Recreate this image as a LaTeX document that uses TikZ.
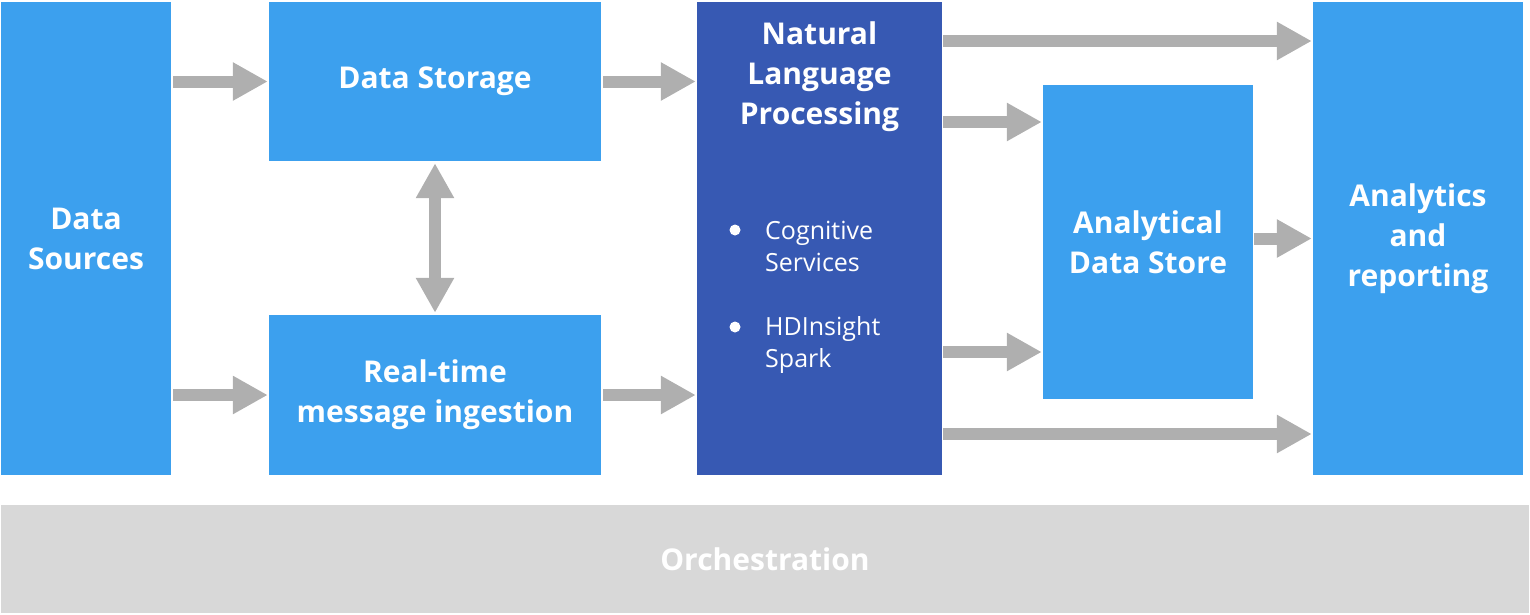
\documentclass[tikz,border=0pt]{standalone}
\usepackage{fontspec}
\setmainfont{Open Sans}
\usepackage{tikz}
\usetikzlibrary{arrows.meta}
\usetikzlibrary{calc}
\definecolor{lightblue}{HTML}{3CA0EE}
\definecolor{darkblue}{HTML}{3759B3}
\definecolor{arrowgray}{HTML}{AFAFAF}
\definecolor{orchgray}{HTML}{D8D8D8}
\newcommand{\headfont}{\fontsize{30}{40}\selectfont\bfseries}
\newcommand{\bulletfont}{\fontsize{25}{32}\selectfont}

\begin{document}
\begin{tikzpicture}[x=1pt,y=-1pt,
	box/.style={shape=rectangle,fill=lightblue,inner sep=0pt,text=white,align=center,font=\headfont},
	flow/.style={draw=arrowgray,line width=12pt,-{Triangle[length=35pt,width=36pt]}},
	dflow/.style={draw=arrowgray,line width=12pt,{Triangle[length=35pt,width=36pt]}-{Triangle[length=35pt,width=36pt]}}]
	\useasboundingbox (0,0) rectangle (1530,614);
	\draw (86,238.5) node (src) [box,minimum width=170pt,minimum height=473pt] {Data\\Sources};
	\draw (435,81.5) node (store) [box,minimum width=332pt,minimum height=159pt] {Data Storage};
	\draw (435,395) node (rt) [box,minimum width=332pt,minimum height=160pt] {Real-time\\message ingestion};
	\draw (819.5,238.5) node (nlp) [box,fill=darkblue,minimum width=245pt,minimum height=473pt] {};
	\draw (819.5,77) node (nlptitle) [text=white,align=center,font=\headfont] {Natural\\Language\\Processing};
	\draw (1148,242) node (ads) [box,minimum width=210pt,minimum height=314pt] {Analytical\\Data Store};
	\draw (1418,238.5) node (ana) [box,minimum width=210pt,minimum height=473pt] {Analytics\\and\\reporting};
	\draw (765,559) node (orch) [box,fill=orchgray,text=white,minimum width=1528pt,minimum height=108pt] {Orchestration};
	% bullets inside the NLP box
	\fill[white] (735,230) circle[radius=5.5pt] (735,327) circle[radius=5.5pt];
	\draw (765,246) node (cog) [anchor=west,inner sep=0pt,text=white,align=left,font=\bulletfont] {Cognitive\\Services};
	\draw (765,345) node (hdi) [anchor=west,inner sep=0pt,text=white,align=left,font=\bulletfont] {HDInsight\\Spark};
	% connectors
	\draw[flow,shorten <=2pt,shorten >=1pt] (src.east |- store) -- (store.west);
	\draw[flow,shorten <=2pt,shorten >=1pt] (src.east |- rt) -- (rt.west);
	\draw[flow,shorten <=2pt,shorten >=1pt] (store.east) -- (nlp.west |- store);
	\draw[flow,shorten <=2pt,shorten >=1pt] (rt.east) -- (nlp.west |- rt);
	\draw[dflow,shorten <=2pt,shorten >=2pt] (store.south) -- (rt.north);
	\draw[flow,shorten <=1pt,shorten >=1pt] ([yshift=197.5pt]nlp.east) -- ([yshift=197.5pt]ana.west);
	\draw[flow,shorten <=1pt,shorten >=1pt] ([yshift=120pt]nlp.east |- ads) -- ([yshift=120pt]ads.west);
	\draw[flow,shorten <=1pt,shorten >=1pt] (ads.east |- ana) -- (ana.west);
	\draw[flow,shorten <=1pt,shorten >=1pt] ([yshift=-110pt]nlp.east |- ads) -- ([yshift=-110pt]ads.west);
	\draw[flow,shorten <=1pt,shorten >=1pt] ([yshift=-195.5pt]nlp.east) -- ([yshift=-195.5pt]ana.west);
\end{tikzpicture}
\end{document}
